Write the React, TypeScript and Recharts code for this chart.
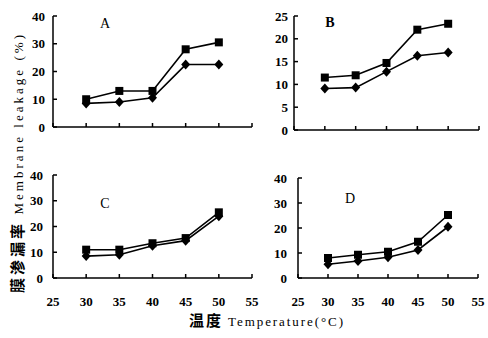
import React from "react";
import { LineChart, Line, XAxis, YAxis } from "recharts";

const temps = [30, 35, 40, 45, 50];
const xTicks = [25, 30, 35, 40, 45, 50, 55];

const aSquare = [10, 13, 13, 28, 30.5];
const aDiamond = [8.5, 9, 10.5, 22.5, 22.5];
const bSquare = [11.5, 12, 14.7, 22, 23.3];
const bDiamond = [9.1, 9.3, 12.8, 16.3, 17];
const cSquare = [11, 11, 13.5, 15.5, 25.5];
const cDiamond = [8.5, 9, 12.5, 14.5, 24];
const dSquare = [8, 9.3, 10.5, 14.5, 25.2];
const dDiamond = [5.5, 6.8, 8.3, 11.2, 20.5];

const ticks40 = [0, 10, 20, 30, 40];
const ticks25 = [0, 5, 10, 15, 20, 25];

const font = "'Liberation Serif', 'Times New Roman', serif";

const toRows = (sq: number[], di: number[]) =>
  temps.map((t, i) => ({ t, sq: sq[i], di: di[i] }));

const SquareDot = (props: any) => {
  const { cx, cy } = props;
  if (cx == null || cy == null) return null;
  return <rect x={cx - 4} y={cy - 4} width={8} height={8} fill="#000" />;
};

const DiamondDot = (props: any) => {
  const { cx, cy } = props;
  if (cx == null || cy == null) return null;
  return (
    <polygon
      points={`${cx},${cy - 5} ${cx + 4.5},${cy} ${cx},${cy + 5} ${cx - 4.5},${cy}`}
      fill="#000"
    />
  );
};

interface PanelProps {
  left: number;
  top: number;
  width: number;
  height: number;
  margin: { top: number; right: number; bottom: number; left: number };
  yWidth: number;
  xHeight: number;
  yTicks: number[];
  yMargin: number;
  showX: boolean;
  sq: number[];
  di: number[];
}

const tickStyle = { fill: "#000", fontSize: 13, fontFamily: font, fontWeight: "bold" as const };

const Panel: React.FC<PanelProps> = (p) => (
  <div style={{ position: "absolute", left: p.left, top: p.top }}>
    <LineChart width={p.width} height={p.height} data={toRows(p.sq, p.di)} margin={p.margin}>
      <XAxis
        dataKey="t"
        type="number"
        domain={[25, 55]}
        ticks={xTicks}
        height={p.xHeight}
        tickSize={-4}
        tickMargin={23}
        tick={tickStyle}
        tickFormatter={(v) => (p.showX ? String(v) : "")}
        stroke="#000"
        strokeWidth={1.5}
        interval={0}
      />
      <YAxis
        domain={[0, p.yTicks[p.yTicks.length - 1]]}
        ticks={p.yTicks}
        width={p.yWidth}
        tickSize={-4}
        tickMargin={p.yMargin}
        tick={tickStyle}
        stroke="#000"
        strokeWidth={1.5}
        interval={0}
      />
      <Line
        dataKey="di"
        stroke="#000"
        strokeWidth={1.6}
        dot={<DiamondDot />}
        isAnimationActive={false}
      />
      <Line
        dataKey="sq"
        stroke="#000"
        strokeWidth={1.6}
        dot={<SquareDot />}
        isAnimationActive={false}
      />
    </LineChart>
  </div>
);

export default function App() {
  return (
    <div
      style={{
        position: "absolute",
        left: 0,
        top: 0,
        width: 488,
        height: 338,
        background: "#fff",
        overflow: "hidden",
      }}
    >
      <Panel
        left={0}
        top={0}
        width={262}
        height={150}
        margin={{ top: 16, right: 10, bottom: 3, left: 0 }}
        yWidth={53}
        xHeight={20}
        yTicks={ticks40}
        yMargin={12}
        showX={false}
        sq={aSquare}
        di={aDiamond}
      />
      <Panel
        left={240}
        top={0}
        width={248}
        height={150}
        margin={{ top: 16, right: 9, bottom: 0, left: 0 }}
        yWidth={54}
        xHeight={20}
        yTicks={ticks25}
        yMargin={10}
        showX={false}
        sq={bSquare}
        di={bDiamond}
      />
      <Panel
        left={0}
        top={150}
        width={262}
        height={170}
        margin={{ top: 25, right: 10, bottom: 2, left: 0 }}
        yWidth={53}
        xHeight={40}
        yTicks={ticks40}
        yMargin={14}
        showX={true}
        sq={cSquare}
        di={cDiamond}
      />
      <Panel
        left={240}
        top={150}
        width={248}
        height={170}
        margin={{ top: 28, right: 10, bottom: 2, left: 0 }}
        yWidth={58}
        xHeight={40}
        yTicks={ticks40}
        yMargin={15}
        showX={true}
        sq={dSquare}
        di={dDiamond}
      />
      <svg
        width={488}
        height={338}
        style={{ position: "absolute", left: 0, top: 0, pointerEvents: "none" }}
      >
        <g fontFamily={font} fill="#000" fontSize={14}>
          <text x={105} y={28} textAnchor="middle">A</text>
          <text x={330} y={27} textAnchor="middle" fontWeight="bold">B</text>
          <text x={105} y={208} textAnchor="middle">C</text>
          <text x={350} y={203} textAnchor="middle">D</text>
        </g>
        <text
          x={23}
          y={164}
          transform="rotate(-90, 23, 164)"
          textAnchor="middle"
          fontFamily={font}
          fontSize={13}
          fill="#000"
          textLength={258}
          lengthAdjust="spacing"
        >
          <tspan fontFamily="'Noto Sans CJK SC'" fontWeight="bold" fontSize={15}>膜渗漏率</tspan>
          <tspan> Membrane leakage (%)</tspan>
        </text>
        <text
          x={266}
          y={326}
          textAnchor="middle"
          fontFamily={font}
          fontSize={13}
          fill="#000"
          textLength={154}
          lengthAdjust="spacing"
        >
          <tspan fontFamily="'Noto Sans CJK SC'" fontWeight="bold" fontSize={15}>温度</tspan>
          <tspan> Temperature(°C)</tspan>
        </text>
      </svg>
    </div>
  );
}
